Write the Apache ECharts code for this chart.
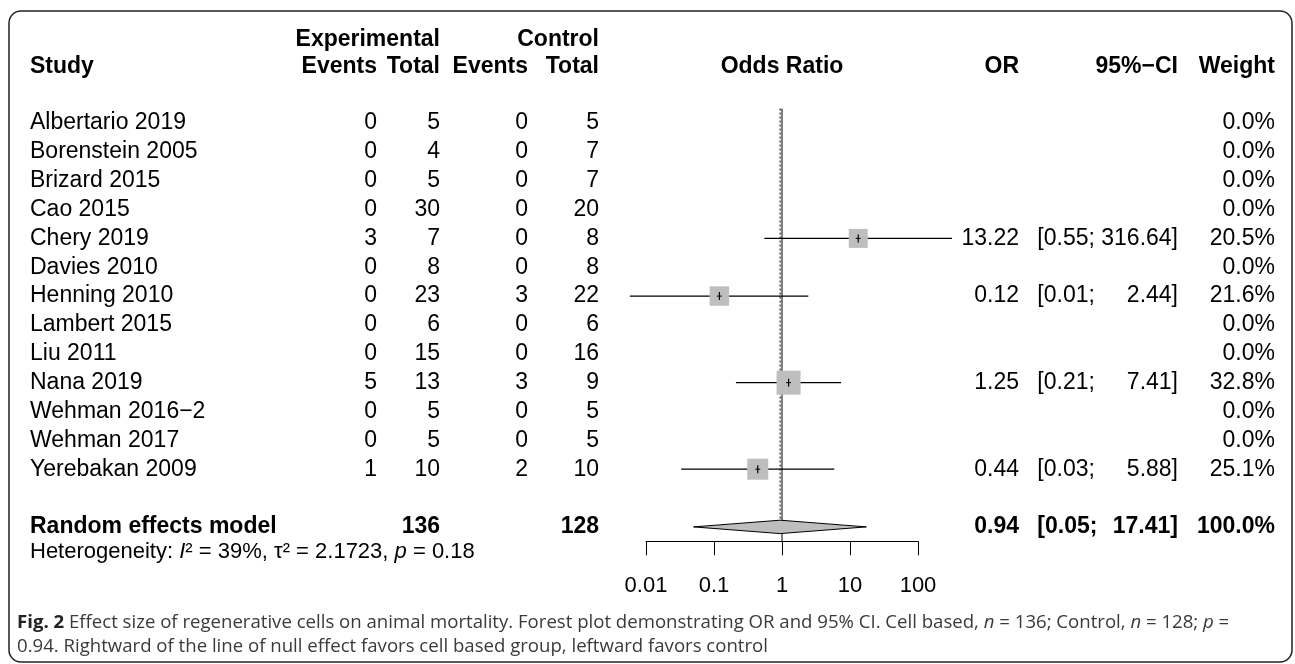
<!DOCTYPE html>
<html><head><meta charset="utf-8">
<script src="https://cdn.jsdelivr.net/npm/echarts@6/dist/echarts.min.js"></script>
<style>html,body{margin:0;padding:0;background:#fff}#c{width:1295px;height:664px}</style>
</head><body><div id="c"></div>
<script>
// ---------- data ----------
const studies = ['Albertario 2019','Borenstein 2005','Brizard 2015','Cao 2015','Chery 2019','Davies 2010','Henning 2010','Lambert 2015','Liu 2011','Nana 2019','Wehman 2016\u22122','Wehman 2017','Yerebakan 2009'];
const expEvents  = [0,0,0,0,3,0,0,0,0,5,0,0,1];
const expTotal   = [5,4,5,30,7,8,23,6,15,13,5,5,10];
const ctrlEvents = [0,0,0,0,0,0,3,0,0,3,0,0,2];
const ctrlTotal  = [5,7,7,20,8,8,22,6,16,9,5,5,10];
const orVal  = [null,null,null,null,13.22,null,0.12,null,null,1.25,null,null,0.44];
const ciLow  = [null,null,null,null,0.55,null,0.0058,null,null,0.21,null,null,0.033];
const ciHigh = [null,null,null,null,316.64,null,2.44,null,null,7.41,null,null,5.88];
const weight = [0,0,0,0,20.5,0,21.6,0,0,32.8,0,0,25.1];
const pooledOR = [0.94];
const pooledLow = [0.05];
const pooledHigh = [17.41];
const pooledWeight = [100.0];
const totals = [136, 128];
const heterogeneity = {I2: '39%', tau2: '2.1723', p: '0.18'};
const axisTicks = [0.01, 0.1, 1, 10, 100];

// ---------- layout / style ----------
const FONT = '"Liberation Sans", Arial, Helvetica, sans-serif';
const CAPFONT = '"Open Sans", sans-serif';
const FS = 23;
const ROWS = studies.length;
const SUMROW = ROWS + 1;
const ROWH = 28.85, FIRSTY = 123;
const X = {study: 30, e1: 377, t1: 440, e2: 528, t2: 599, or: 1019, ciR: 1178, w: 1275};
const MAXSQ = 24;
const maxW = Math.max.apply(null, weight);
const fmt2 = v => v.toFixed(2);

const mctx = document.createElement('canvas').getContext('2d');
function textW(s, bold) { mctx.font = (bold ? 'bold ' : '') + FS + 'px ' + FONT; return mctx.measureText(s).width; }
let ciMax = 0;
orVal.forEach((v, i) => { if (v != null) ciMax = Math.max(ciMax, textW('[' + fmt2(ciLow[i]) + '; ' + fmt2(ciHigh[i]) + ']')); });
X.ciL = X.ciR - ciMax;

function txt(x, y, s, align, bold, size) {
  return {type: 'text', x: x, y: y, silent: true,
    style: {text: s, fill: '#000', fontFamily: FONT, fontSize: size || FS,
      fontWeight: bold ? 'bold' : 'normal', align: align || 'right', verticalAlign: 'middle'}};
}

const rowIdx = studies.map((s, i) => [1, i]);

const option = {
  animation: false,
  grid: {left: 646, width: 272, top: FIRSTY - ROWH * 0.5, height: ROWH * 15, containLabel: false},
  xAxis: {
    type: 'log', logBase: 10, min: 0.01, max: 100, position: 'bottom',
    axisLine: {show: true, onZero: false, lineStyle: {color: '#000', width: 1}},
    axisTick: {show: true, inside: false, length: 14, lineStyle: {color: '#000', width: 1}},
    axisLabel: {show: true, margin: 34, color: '#000', fontFamily: FONT, fontSize: 22,
      formatter: v => { let best = axisTicks[0]; axisTicks.forEach(t => { if (Math.abs(Math.log10(t) - Math.log10(v)) < Math.abs(Math.log10(best) - Math.log10(v))) best = t; }); return String(best); }},
    splitLine: {show: false}, minorTick: {show: false}
  },
  yAxis: {type: 'value', min: -0.5, max: 14.5, inverse: true, show: false},
  series: [
    { // study table text
      type: 'custom', clip: false, silent: true,
      data: rowIdx,
      renderItem: function (params, api) {
        const i = api.value(1);
        const y = api.coord([1, i])[1];
        const ch = [
          txt(X.study, y, studies[i], 'left'),
          txt(X.e1, y, String(expEvents[i])),
          txt(X.t1, y, String(expTotal[i])),
          txt(X.e2, y, String(ctrlEvents[i])),
          txt(X.t2, y, String(ctrlTotal[i])),
          txt(X.w, y, weight[i].toFixed(1) + '%')
        ];
        if (orVal[i] != null) {
          ch.push(txt(X.or, y, fmt2(orVal[i])));
          ch.push(txt(X.ciL, y, '[' + fmt2(ciLow[i]) + ';', 'left'));
          ch.push(txt(X.ciR, y, fmt2(ciHigh[i]) + ']'));
        }
        return {type: 'group', children: ch};
      }
    },
    { // reference lines (null effect and pooled estimate)
      type: 'custom', clip: false, silent: true,
      data: [[1, 0]],
      renderItem: function (params, api) {
        const top = api.coord([1, -0.5]);
        const bot = api.coord([1, 14.5]);
        const pt = api.coord([pooledOR[0], -0.5]);
        const pb = api.coord([pooledOR[0], SUMROW]);
        return {type: 'group', children: [
          {type: 'line', shape: {x1: pt[0], y1: pt[1], x2: pb[0], y2: pb[1] - 6.7},
           style: {stroke: '#000', lineWidth: 1, lineDash: [2, 2]}},
          {type: 'line', shape: {x1: top[0], y1: top[1], x2: bot[0], y2: bot[1]},
           style: {stroke: '#000', lineWidth: 1}}
        ]};
      }
    },
    { // study estimates
      type: 'custom', clip: false, silent: true,
      data: rowIdx.filter(d => orVal[d[1]] != null),
      renderItem: function (params, api) {
        const i = api.value(1);
        const c = api.coord([orVal[i], i]);
        const l = api.coord([ciLow[i], i]);
        const h = api.coord([ciHigh[i], i]);
        const s = MAXSQ * Math.sqrt(weight[i] / maxW);
        return {type: 'group', children: [
          {type: 'line', shape: {x1: l[0], y1: l[1], x2: h[0], y2: h[1]}, style: {stroke: '#000', lineWidth: 1.3}},
          {type: 'rect', shape: {x: c[0] - s / 2, y: c[1] - s / 2, width: s, height: s}, style: {fill: '#bebebe'}},
          {type: 'line', shape: {x1: c[0], y1: c[1] - 4, x2: c[0], y2: c[1] + 4}, style: {stroke: '#000', lineWidth: 1.2}},
          {type: 'line', shape: {x1: c[0] - 2.5, y1: c[1], x2: c[0] + 2.5, y2: c[1]}, style: {stroke: '#000', lineWidth: 1}}
        ]};
      }
    },
    { // pooled estimate
      type: 'custom', clip: false, silent: true,
      data: [[pooledOR[0], SUMROW]],
      renderItem: function (params, api) {
        const c = api.coord([pooledOR[0], SUMROW]);
        const l = api.coord([pooledLow[0], SUMROW]);
        const h = api.coord([pooledHigh[0], SUMROW]);
        const hh = 6.7, y = c[1];
        return {type: 'group', children: [
          {type: 'polygon', shape: {points: [[l[0], y], [c[0], y - hh], [h[0], y], [c[0], y + hh]]},
           style: {fill: '#bebebe', stroke: '#000', lineWidth: 1}},
          txt(X.study, y, 'Random effects model', 'left', true),
          txt(X.t1, y, String(totals[0]), 'right', true),
          txt(X.t2, y, String(totals[1]), 'right', true),
          txt(X.or, y, fmt2(pooledOR[0]), 'right', true),
          txt(X.ciL, y, '[' + fmt2(pooledLow[0]) + ';', 'left', true),
          txt(X.ciR, y, fmt2(pooledHigh[0]) + ']', 'right', true),
          txt(X.w, y, pooledWeight[0].toFixed(1) + '%', 'right', true)
        ]};
      }
    }
  ],
  graphic: [
    {type: 'rect', silent: true, shape: {x: 9, y: 11, width: 1283, height: 651, r: 12},
     style: {fill: 'none', stroke: '#222', lineWidth: 1.5}},
    txt(X.study, 67, 'Study', 'left', true),
    txt(X.t1, 40, 'Experimental', 'right', true),
    txt(X.t2, 40, 'Control', 'right', true),
    txt(X.e1, 67, 'Events', 'right', true),
    txt(X.t1, 67, 'Total', 'right', true),
    txt(X.e2, 67, 'Events', 'right', true),
    txt(X.t2, 67, 'Total', 'right', true),
    txt(782, 67, 'Odds Ratio', 'center', true),
    txt(X.or, 67, 'OR', 'right', true),
    txt(X.ciR, 67, '95%\u2212CI', 'right', true),
    txt(X.w, 67, 'Weight', 'right', true),
    {type: 'text', x: X.study, y: 552, silent: true,
     style: {text: 'Heterogeneity: {i|I}\u00b2 = ' + heterogeneity.I2 + ', \u03c4\u00b2 = ' + heterogeneity.tau2 + ', {i|p} = ' + heterogeneity.p,
       fill: '#000', fontFamily: FONT, fontSize: 22, verticalAlign: 'middle', align: 'left',
       rich: {i: {fontStyle: 'italic', fontFamily: FONT, fontSize: 22, fill: '#000'}}}},
    {type: 'text', x: 17, y: 623, silent: true,
     style: {text: '{b|Fig. 2} Effect size of regenerative cells on animal mortality. Forest plot demonstrating OR and 95% CI. Cell based, {i|n} = 136; Control, {i|n} = 128; {i|p} =',
       fill: '#3a3a3a', fontFamily: CAPFONT, fontSize: 18.6, verticalAlign: 'middle', align: 'left',
       rich: {b: {fontWeight: 'bold', fill: '#222', fontFamily: CAPFONT, fontSize: 18.6},
              i: {fontStyle: 'italic', fill: '#3a3a3a', fontFamily: CAPFONT, fontSize: 18.6}}}},
    {type: 'text', x: 17, y: 647, silent: true,
     style: {text: '0.94. Rightward of the line of null effect favors cell based group, leftward favors control',
       fill: '#3a3a3a', fontFamily: CAPFONT, fontSize: 18.6, verticalAlign: 'middle', align: 'left'}}
  ]
};
const chart = echarts.init(document.getElementById('c'), null, {renderer: 'canvas'});
chart.setOption(option);
</script></body></html>
